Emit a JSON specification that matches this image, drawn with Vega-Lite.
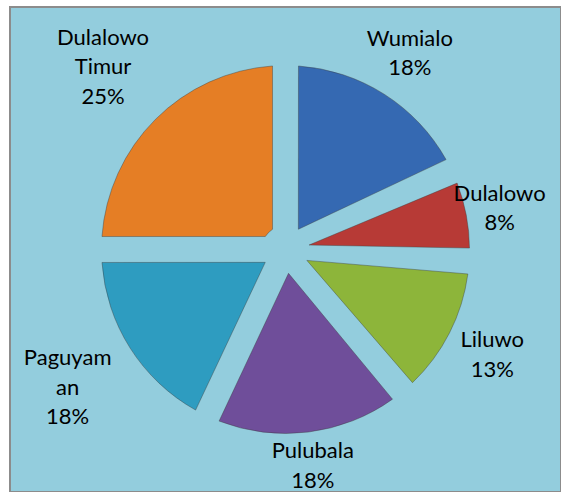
{
  "$schema": "https://vega.github.io/schema/vega-lite/v6.json",
  "width": 551,
  "height": 485,
  "autosize": {"type": "none"},
  "padding": {"left": 10, "top": 7, "right": 0, "bottom": 0},
  "background": "white",
  "view": {"fill": "#93CDDD", "stroke": "#8C8C8C", "strokeWidth": 2},
  "config": {
    "view": {"fill": "#93CDDD", "stroke": "#8C8C8C", "strokeWidth": 2},
    "font": "Lato"
  },
  "data": {
    "values": [
      {"idx": 1, "label": "Wumialo", "value": 18, "text": "Wumialo\n18%"},
      {"idx": 2, "label": "Dulalowo", "value": 8, "text": "Dulalowo\n8%"},
      {"idx": 3, "label": "Liluwo", "value": 13, "text": "Liluwo\n13%"},
      {"idx": 4, "label": "Pulubala", "value": 18, "text": "Pulubala\n18%"},
      {"idx": 5, "label": "Paguyaman", "value": 18, "text": "Paguyam\nan\n18%"},
      {"idx": 6, "label": "Dulalowo Timur", "value": 25, "text": "Dulalowo\nTimur\n25%"}
    ]
  },
  "encoding": {
    "theta": {"field": "value", "type": "quantitative", "stack": true},
    "order": {"field": "idx", "type": "quantitative"}
  },
  "layer": [
    {
      "mark": {"type": "arc", "innerRadius": 24, "outerRadius": 184, "padAngle": 0.14, "stroke": "#3a3a3a", "strokeOpacity": 0.4, "strokeWidth": 1},
      "encoding": {
        "color": {
          "field": "label",
          "type": "nominal",
          "legend": null,
          "scale": {
            "domain": ["Wumialo", "Dulalowo", "Liluwo", "Pulubala", "Paguyaman", "Dulalowo Timur"],
            "range": ["#3569B2", "#B73A36", "#8DB53A", "#6F4E9A", "#2E9CC0", "#E57E25"]
          }
        }
      }
    },
    {
      "mark": {"type": "text", "radius": 218, "dy": -14.75, "fontSize": 22, "lineBreak": "\n", "lineHeight": 29.5, "align": "center", "baseline": "middle", "color": "black"},
      "encoding": {
        "text": {"field": "text", "type": "nominal"},
        "opacity": {
          "condition": {"test": "datum.label == 'Dulalowo' || datum.label == 'Pulubala'", "value": 1},
          "value": 0
        }
      }
    },
    {
      "mark": {"type": "text", "radius": 232, "dy": -14.75, "fontSize": 22, "lineBreak": "\n", "lineHeight": 29.5, "align": "center", "baseline": "middle", "color": "black"},
      "encoding": {
        "text": {"field": "text", "type": "nominal"},
        "opacity": {
          "condition": {"test": "datum.label == 'Wumialo' || datum.label == 'Liluwo'", "value": 1},
          "value": 0
        }
      }
    },
    {
      "mark": {"type": "text", "radius": 258, "dy": -29.5, "fontSize": 22, "lineBreak": "\n", "lineHeight": 29.5, "align": "center", "baseline": "middle", "color": "black"},
      "encoding": {
        "text": {"field": "text", "type": "nominal"},
        "opacity": {
          "condition": {"test": "datum.label == 'Paguyaman' || datum.label == 'Dulalowo Timur'", "value": 1},
          "value": 0
        }
      }
    }
  ]
}
